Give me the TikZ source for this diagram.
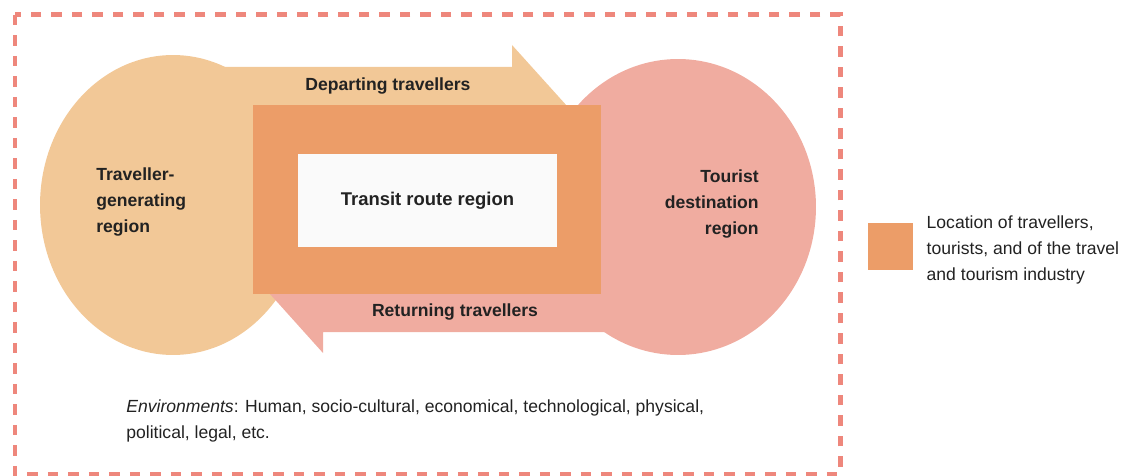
\documentclass[tikz,border=0pt]{standalone}
\usepackage{fontspec}
\setmainfont{Liberation Sans}
\usetikzlibrary{shapes,calc,positioning}
\definecolor{mypeach}{RGB}{242,200,151}
\definecolor{myorange}{RGB}{236,157,104}
\definecolor{mypink}{RGB}{240,172,160}
\definecolor{myred}{RGB}{238,135,124}
\definecolor{mytext}{RGB}{34,34,34}

\begin{document}
\begin{tikzpicture}[x=0.02cm,y=-0.02cm]

\tikzstyle{region} = [ellipse, draw=none, inner sep=0]
\tikzstyle{bold} = [font=\fontsize{10}{14.7}\selectfont\bfseries,
    text=mytext, inner sep=0]
\tikzstyle{plain} = [font=\fontsize{10}{14.7}\selectfont,
    text=mytext, inner sep=0]

\useasboundingbox (0,0) rectangle (1126,476);

% =========================
% environment border
% =========================
\draw[myred, line width=0.1cm, dash pattern=on 0.21cm off 0.2cm]
    (15,15) rectangle (840,474);

% =========================
% generating region + departing arrow
% =========================
\node[region, fill=mypeach, minimum width=5.32cm, minimum height=6cm]
    (gen) at (173,205) {};
\fill[mypeach] (173,67) -- (512,67) -- (512,45) -- (567,106)
    -- (512,167) -- (512,145) -- (173,145) -- cycle;

% =========================
% destination region + returning arrow
% =========================
\node[region, fill=mypink, minimum width=5.52cm, minimum height=5.92cm]
    (dest) at (678,207) {};
\fill[mypink] (678,332) -- (323,332) -- (323,353) -- (270,294)
    -- (323,235) -- (323,256) -- (678,256) -- cycle;

% =========================
% transit route region
% =========================
\node[fill=myorange, inner sep=0, minimum width=6.96cm, minimum height=3.78cm]
    (transit) at (427,199.5) {};
\node[bold, fill=white!98!black, minimum width=5.18cm, minimum height=1.86cm,
    font=\fontsize{10.5}{14.7}\selectfont\bfseries]
    (route) at (427.5,200.5) {Transit route region};

% labels
\node[bold] (deplabel) at (388,86) {Departing travellers};
\node[bold] (retlabel) at (455,312) {Returning travellers};
\node[bold, anchor=west, align=left] (genlabel) at (96,202)
    {Traveller-\\generating\\region};
\node[bold, anchor=east, align=right] (destlabel) at (759,204)
    {Tourist\\destination\\region};

\node[plain, anchor=west, align=left] (envlabel) at (126,421)
    {\textit{Environments}: Human, socio-cultural, economical, technological, physical,\\political, legal, etc.};

% =========================
% legend
% =========================
\node[fill=myorange, inner sep=0, minimum width=0.9cm, minimum height=0.94cm]
    (key) at (890.5,246.5) {};
\node[plain, align=left, right=0.26cm of key, yshift=-0.07cm] (keylabel)
    {Location of travellers,\\tourists, and of the travel\\and tourism industry};

\end{tikzpicture}
\end{document}
